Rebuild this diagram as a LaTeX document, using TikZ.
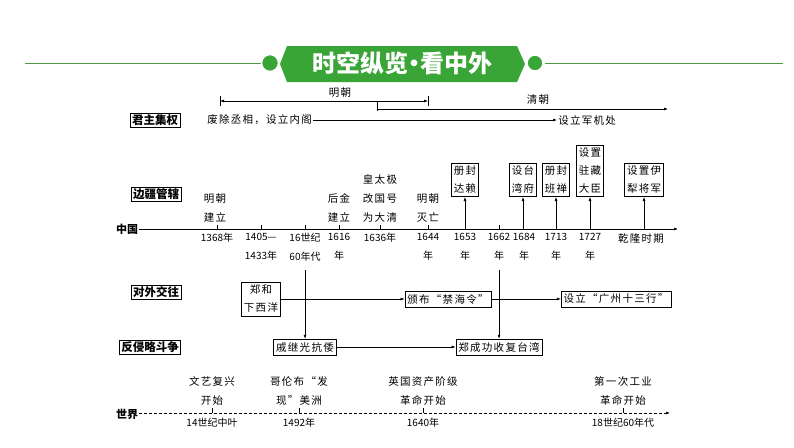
\documentclass[tikz,border=0pt]{standalone}
\usepackage{fontspec}
\setmainfont{Noto Sans CJK SC}
\newfontfamily\cjk[LetterSpace=12]{Noto Sans CJK SC}
\usepackage{tikz}
\usetikzlibrary{arrows.meta}
\definecolor{bannergreen}{HTML}{3AA537}
\definecolor{linegreen}{HTML}{4E9C45}

\begin{document}
\begin{tikzpicture}[x=1pt, y=-1pt, line width=.6,
    cat/.style={draw, line width=.8, inner xsep=2pt, inner ysep=1.5pt, font=\bfseries\fontsize{11.5}{12}\selectfont},
    ev/.style={draw, line width=.6, inner xsep=2.5pt, inner ysep=3pt, align=center, font=\cjk\fontsize{10.5}{18}\selectfont},
    lbl/.style={inner sep=1pt, align=center, font=\cjk\fontsize{10.5}{19}\selectfont},
    yr/.style={inner sep=1pt, align=center, font=\normalfont\fontsize{10}{19}\selectfont},
    axis/.style={font=\bfseries\fontsize{11}{12}\selectfont, inner sep=1pt},
    arr/.style={-{Latex[length=4pt,width=3pt]}}]
    \useasboundingbox (0,0) rectangle (794,447);
    \draw[linegreen, line width=1] (25,63) -- (262,63);
    \draw[linegreen, line width=1] (545,63) -- (783,63);
    \fill[bannergreen] (287,46) -- (517,46) -- (525,64) -- (517,82) -- (287,82) -- (280,64) -- cycle;
    \draw[fill=bannergreen, draw=white, line width=1.5] (270,63) circle (8.5);
    \draw[fill=bannergreen, draw=white, line width=1.5] (535,63) circle (8);
    \node[text=white, font=\bfseries\fontsize{24}{24}\selectfont] (title) at (402,63) {时空纵览\kern-6pt·\kern-6pt看中外};

    \node[cat] (jzjq) at (155,120) {君主集权};
    \coordinate (mingS) at (220,101);
    \coordinate (mingE) at (428,101);
    \coordinate (qingS) at (377,109);
    \coordinate (qingE) at (668,109);
    \draw (220,96) -- (220,106);
    \draw (428,96) -- (428,106);
    \draw[{Latex[length=4pt,width=3pt]}-{Latex[length=4pt,width=3pt]}] (mingS) -- (mingE);
    \node[lbl] (ming) at (340,93) {明朝};
    \draw (377,101) -- (377,111);
    \draw[arr] (qingS) -- (qingE);
    \node[lbl] (qing) at (538,100) {清朝};
    \node[lbl, anchor=west] (feichu) at (206,120) {废除丞相，设立内阁};
    \node[lbl, anchor=west] (junji) at (557,120) {设立军机处};
    \draw[arr] (feichu.east) -- (junji.west);

    \node[cat] (bjgx) at (156,194) {边疆管辖};
    \node[axis] (zg) at (127,229) {中国};
    \coordinate (zgE) at (678,229);
    \draw[arr] (zg.east) -- (zgE);
    \foreach \x in {217,261,305,339,380,428,499}
        \draw (\x,229) -- (\x,225);
    \foreach \x/\t in {217/{1368年}, 261/{1405—\\1433年}, 305/{16世纪\\60年代}, 339/{1616\\年},
        380/{1636年}, 428/{1644\\年}, 465/{1653\\年}, 499/{1662\\年}, 524/{1684\\年},
        556/{1713\\年}, 590/{1727\\年}}
        \node[yr, anchor=north] (d\x) at (\x,232) {\t};
    \node[lbl, anchor=north] (qlsq) at (641,232) {乾隆时期};
    \foreach \x/\t in {215/{明朝\\建立}, 339/{后金\\建立}, 380/{皇太极\\改国号\\为大清}, 428/{明朝\\灭亡}}
        \node[lbl, anchor=south] (u\x) at (\x,224) {\t};
    \node[ev, anchor=south] (cfdl) at (465,197) {册封\\达赖};
    \node[ev, anchor=south] (stwf) at (523,197) {设台\\湾府};
    \node[ev, anchor=south] (cfbc) at (556,197) {册封\\班禅};
    \node[ev, anchor=south] (zzdc) at (590,197) {设置\\驻藏\\大臣};
    \node[ev, anchor=south] (yljj) at (644,197) {设置伊\\犁将军};
    \foreach \n in {cfdl,stwf,cfbc,zzdc,yljj}
        \draw[arr] (\n.south |- zgE) -- (\n.south);

    \node[cat] (dwjw) at (156,292) {对外交往};
    \node[ev] (zhxy) at (261,299) {郑和\\下西洋};
    \node[ev] (jhl) at (448,299) {颁布“禁海令”};
    \node[ev] (gzsh) at (616,299) {设立“广州十三行”};
    \draw[arr] (zhxy) -- (jhl);
    \draw[arr] (jhl) -- (gzsh);

    \node[cat] (fqld) at (150,347) {反侵略斗争};
    \node[ev] (qjg) at (305,347) {戚继光抗倭};
    \node[ev] (zcg) at (499,347) {郑成功收复台湾};
    \draw[arr] (qjg) -- (zcg);
    \coordinate (q16) at (305,270);
    \coordinate (q1662) at (499,270);
    \draw[arr] (q16) -- (qjg.north);
    \draw[arr] (q1662) -- (zcg.north);

    \node[axis] (sj) at (127,414) {世界};
    \coordinate (sjE) at (670,413);
    \draw[arr, dash pattern=on 3pt off 2pt] (sj.east |- sjE) -- (sjE);
    \foreach \x/\a/\b in {212/{文艺复兴\\开始}/{14世纪中叶}, 299/{哥伦布“发\\现”美洲}/{1492年},
        423/{英国资产阶级\\革命开始}/{1640年}, 623/{第一次工业\\革命开始}/{18世纪60年代}}{
        \draw (\x,413) -- (\x,408);
        \node[lbl, anchor=south] (w\x) at (\x,407) {\a};
        \node[yr, anchor=north] (v\x) at (\x,417) {\b};
    }
\end{tikzpicture}
\end{document}
